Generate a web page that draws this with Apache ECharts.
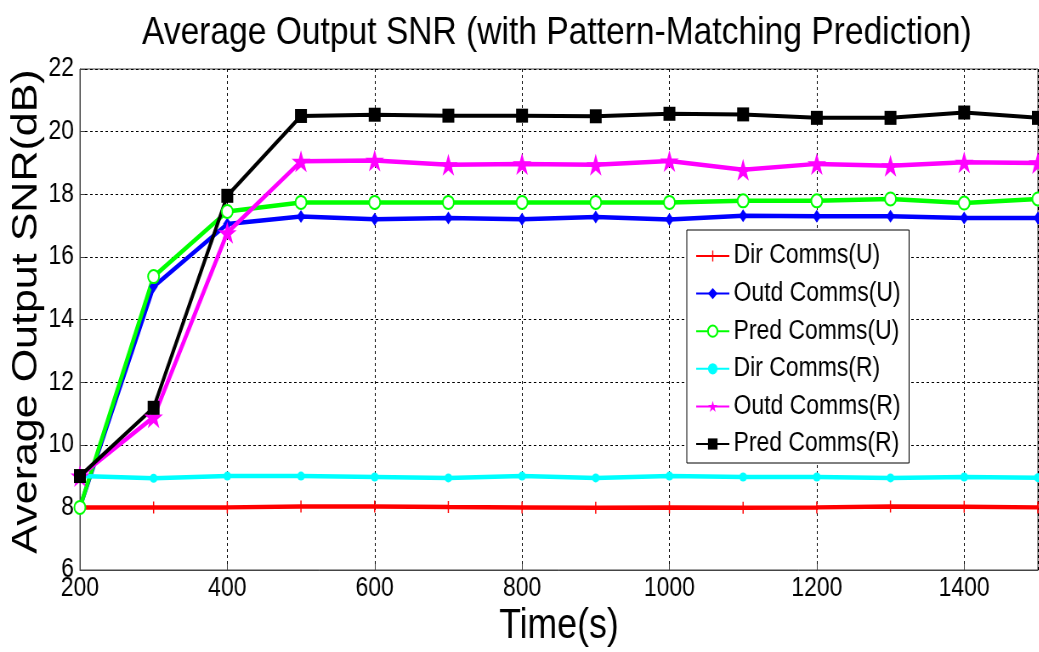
<!DOCTYPE html>
<html>
<head>
<meta charset="utf-8">
<script src="https://cdn.jsdelivr.net/npm/echarts@6/dist/echarts.min.js"></script>
<style>
  html, body { margin: 0; padding: 0; background: #fff; overflow: hidden; }
  /* the figure is laid out wide and then condensed horizontally */
  #chart { width: 1222px; height: 652px; transform: scaleX(0.85); transform-origin: 0 0; }
</style>
</head>
<body>
<div id="chart"></div>
<script>
// Time axis (s)
const times = [200, 300, 400, 500, 600, 700, 800, 900, 1000, 1100, 1200, 1300, 1400, 1500];

// Average output SNR (dB) per scheme
const dirCommsU  = [8.0, 8.0, 8.0, 8.03, 8.03, 8.01, 8.0, 7.99, 8.0, 7.99, 8.0, 8.03, 8.02, 8.0];
const outdCommsU = [8.0, 15.05, 17.05, 17.29, 17.2, 17.24, 17.2, 17.27, 17.19, 17.31, 17.3, 17.3, 17.24, 17.24];
const predCommsU = [8.0, 15.37, 17.45, 17.74, 17.74, 17.74, 17.74, 17.74, 17.74, 17.79, 17.79, 17.85, 17.72, 17.85];
const dirCommsR  = [9.0, 8.93, 9.0, 9.0, 8.97, 8.94, 9.0, 8.94, 9.0, 8.97, 8.97, 8.94, 8.97, 8.95];
const outdCommsR = [9.0, 10.88, 16.77, 19.05, 19.08, 18.94, 18.97, 18.94, 19.06, 18.78, 18.97, 18.91, 19.02, 19.0];
const predCommsR = [9.0, 11.18, 17.95, 20.5, 20.54, 20.51, 20.51, 20.49, 20.57, 20.55, 20.44, 20.44, 20.61, 20.44];

const seriesNames = ['Dir Comms(U)', 'Outd Comms(U)', 'Pred Comms(U)', 'Dir Comms(R)', 'Outd Comms(R)', 'Pred Comms(R)'];

const font = '"Liberation Sans", Arial, Helvetica, sans-serif';

const plusPath = 'path://M-1.2,-10H1.2V-1.2H10V1.2H1.2V10H-1.2V1.2H-10V-1.2H-1.2Z';
const starPath = 'path://M0,-100L22.45,-30.9L95.1,-30.9L36.3,11.8L58.8,80.9L0,38.2L-58.8,80.9L-36.3,11.8L-95.1,-30.9L-22.45,-30.9Z';

function pairs(vals) { return times.map((t, i) => [t, vals[i]]); }

function lineSeries(name, vals, color, symbol, size, width, itemExtra) {
  return {
    name: name,
    type: 'line',
    data: pairs(vals),
    symbol: symbol,
    symbolSize: size,
    showAllSymbol: true,
    lineStyle: { color: color, width: width },
    itemStyle: Object.assign({ color: color, borderColor: color, borderWidth: 0 }, itemExtra || {}),
    emphasis: { disabled: true },
    animation: false
  };
}

const chart = echarts.init(document.getElementById('chart'), null, { renderer: 'canvas' });

chart.setOption({
  backgroundColor: '#ffffff',
  animation: false,
  title: {
    text: 'Average Output SNR (with Pattern-Matching Prediction)',
    left: 162,
    top: 8,
    textStyle: { fontFamily: font, fontSize: 39.5, fontWeight: 'normal', color: '#000' }
  },
  grid: {
    left: 94, right: 1, top: 69, bottom: 82,
    containLabel: false,
    outerBoundsMode: 'none',
    show: true, borderColor: '#444', borderWidth: 1, backgroundColor: '#fff'
  },
  legend: {
    data: seriesNames,
    orient: 'vertical',
    left: 808, top: 230,
    width: 260,
    padding: [11, 10, 4, 10],
    itemWidth: 39, itemHeight: 14, itemGap: 7.6,
    backgroundColor: '#fff',
    borderColor: '#000', borderWidth: 1,
    textStyle: { fontFamily: font, fontSize: 27, color: '#000', lineHeight: 30 }
  },
  xAxis: {
    type: 'value',
    min: 200, max: 1500, interval: 200,
    name: 'Time(s)',
    nameLocation: 'middle',
    nameGap: 35,
    nameMoveOverlap: false,
    nameTextStyle: { fontFamily: font, fontSize: 42, color: '#000' },
    axisLine: { show: true, lineStyle: { color: '#444', width: 1 } },
    axisTick: { show: true, inside: true, length: 6, lineStyle: { color: '#444' } },
    axisLabel: { fontFamily: font, fontSize: 27, color: '#000', margin: 5, showMaxLabel: false,
                 formatter: v => String(v) },
    splitLine: { show: true, lineStyle: { color: '#000', type: [3, 3], width: 1 } }
  },
  yAxis: {
    type: 'value',
    min: 6, max: 22, interval: 2,
    name: 'Average Output SNR(dB)',
    nameLocation: 'middle',
    nameGap: 41,
    nameMoveOverlap: false,
    nameTextStyle: { fontFamily: font, fontSize: 43, color: '#000', padding: [0, 0, 0, 16] },
    axisLine: { show: true, lineStyle: { color: '#444', width: 1 } },
    axisTick: { show: true, inside: true, length: 6, lineStyle: { color: '#444' } },
    axisLabel: { fontFamily: font, fontSize: 27, color: '#000', margin: 7,
                 formatter: v => String(v) },
    splitLine: { show: true, lineStyle: { color: '#000', type: [3, 3], width: 1 } }
  },
  series: [
    lineSeries(seriesNames[0], dirCommsU, '#ff0000', plusPath, 12, 4.5),
    lineSeries(seriesNames[1], outdCommsU, '#0000ff', 'diamond', [10, 13], 4.5),
    lineSeries(seriesNames[2], predCommsU, '#00ff00', 'emptyCircle', 13, 4.5, { borderWidth: 3 }),
    lineSeries(seriesNames[3], dirCommsR, '#00ffff', 'circle', 9, 4.5),
    lineSeries(seriesNames[4], outdCommsR, '#ff00ff', starPath, 22, 4.5),
    lineSeries(seriesNames[5], predCommsR, '#000000', 'rect', 14, 4)
  ]
});
</script>
</body>
</html>
